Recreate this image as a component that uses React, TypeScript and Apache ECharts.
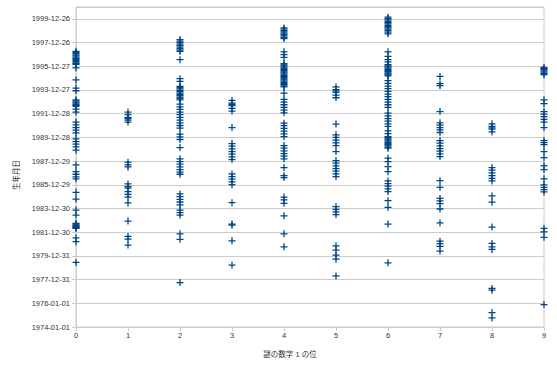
import React, { useEffect, useRef } from "react";
import * as echarts from "echarts";

// Birth dates (decimal years) for each value of the digit ("謎の数字 1 の位")
const digits = [0, 1, 2, 3, 4, 5, 6, 7, 8, 9];

const birth0 = [1997.25, 1997.15, 1997.05, 1996.95, 1996.86, 1996.76, 1996.66, 1996.56, 1996.46, 1996.37, 1996.27,
  1996.2, 1996.15, 1995.84, 1994.83, 1994.15, 1993.92,
  1993.16, 1993.06, 1992.97, 1992.87, 1992.77, 1992.68, 1992.6, 1992.38, 1992.12, 1991.28, 1991.05, 1990.82, 1990.6, 1990.37,
  1989.87, 1989.64, 1989.42, 1989.19, 1988.91, 1987.67, 1987.1, 1986.88, 1986.65, 1986.49,
  1985.36, 1984.79, 1983.86, 1983.44, 1982.74, 1982.67, 1982.6, 1982.54, 1982.47, 1982.4, 1982.36, 1982.32,
  1981.52, 1981.19, 1979.44];
const birth1 = [1992.12, 1991.9, 1991.67, 1991.56, 1991.45, 1991.28, 1987.9, 1987.67, 1987.5,
  1986.06, 1985.83, 1985.7, 1985.41, 1985.19, 1984.96, 1984.46, 1982.93, 1981.64, 1981.41, 1980.91];
const birth2 = [1998.24, 1998.1, 1997.98, 1997.85, 1997.73, 1997.6, 1997.47, 1997.35, 1997.25, 1996.54, 1994.94, 1994.71,
  1994.29, 1994.18, 1994.07, 1993.95, 1993.84, 1993.72, 1993.61, 1993.5, 1993.39, 1993.27, 1993.16,
  1992.8, 1992.57, 1992.34, 1992.12, 1991.9,
  1991.67, 1991.45, 1991.22, 1990.99, 1990.77, 1990.26, 1990.04, 1989.81, 1989.13,
  1988.18, 1987.95, 1987.73, 1987.5, 1987.27, 1987.05, 1986.88, 1985.22, 1984.99, 1984.77, 1984.54, 1984.29,
  1983.86, 1983.64, 1983.44, 1981.86, 1981.39, 1977.75];
const birth3 = [1993.1, 1992.88, 1992.77, 1992.66, 1992.43, 1992.21, 1990.82,
  1989.47, 1989.25, 1989.02, 1988.79,
  1988.57, 1988.34, 1988.12, 1986.91, 1986.68, 1986.46, 1986.23, 1986.0, 1984.48, 1982.68, 1982.6,
  1981.27, 1979.22];
const birth4 = [1999.22, 1999.11, 1999.0, 1998.88, 1998.77, 1998.66, 1998.55, 1998.43, 1998.32, 1997.2, 1996.97, 1996.74,
  1996.21, 1996.11, 1996.01, 1995.91, 1995.81, 1995.71, 1995.61, 1995.51, 1995.42, 1995.32, 1995.22, 1995.12,
  1995.02, 1994.92, 1994.83, 1994.73, 1994.63, 1994.53, 1994.43, 1994.33, 1994.24,
  1993.73, 1993.19, 1992.97, 1992.74, 1992.51, 1992.29, 1992.06, 1991.19, 1990.97, 1990.74, 1990.52,
  1990.29, 1990.06, 1989.3, 1989.08, 1988.85, 1988.62, 1988.4, 1988.18, 1987.44, 1986.76, 1986.6,
  1984.96, 1984.71, 1984.43, 1983.38, 1981.86, 1980.76];
const birth5 = [1994.24, 1994.01, 1993.9, 1993.78, 1993.56, 1993.33, 1991.11,
  1990.2, 1989.98, 1989.76, 1989.53,
  1989.3, 1988.79, 1988.03, 1987.81, 1987.58, 1987.36, 1987.14, 1986.91, 1986.68,
  1984.14, 1983.92, 1983.7, 1983.47, 1980.85, 1980.48, 1980.06, 1979.72, 1978.31];
const birth6 = [2000.12, 2000.01, 1999.9, 1999.78, 1999.67, 1999.55, 1999.44, 1999.33, 1999.22, 1999.11, 1999.0,
  1998.86, 1998.72, 1997.2, 1996.82, 1996.54, 1996.35,
  1996.12, 1996.02, 1995.93, 1995.82, 1995.72, 1995.62, 1995.53, 1995.43, 1995.34, 1995.25, 1995.17,
  1994.77, 1994.54, 1994.32, 1994.09, 1993.86,
  1993.64, 1993.42, 1993.19, 1992.97, 1992.74, 1992.51, 1992.04, 1991.81, 1991.58, 1991.36, 1991.13,
  1990.91, 1990.54, 1990.31, 1990.06, 1989.97, 1989.87, 1989.77, 1989.67, 1989.57, 1989.47, 1989.37,
  1989.27, 1989.17, 1989.08,
  1988.23, 1987.95, 1987.52, 1987.1, 1986.32, 1986.09, 1985.87, 1985.64, 1985.41, 1984.65, 1984.09,
  1982.68, 1979.41];
const birth7 = [1995.13, 1994.52, 1994.35, 1992.17, 1991.22, 1991.02, 1990.82, 1990.63, 1990.4,
  1989.72, 1989.5, 1989.27, 1989.05, 1988.83, 1988.6, 1988.37, 1986.34, 1985.78,
  1984.85, 1984.63, 1984.4, 1983.95, 1982.77, 1981.24, 1981.02, 1980.8, 1980.4];
const birth8 = [1991.13, 1990.91, 1990.8, 1990.69, 1990.46, 1987.44, 1987.22, 1986.99,
  1986.76, 1986.54, 1986.32,
  1985.05, 1984.52, 1982.43, 1981.05, 1980.76, 1980.54, 1977.25, 1977.1, 1975.22, 1974.76];
const birth9 = [1995.89, 1995.8, 1995.7, 1995.6, 1995.5, 1995.39, 1995.28, 1993.16, 1992.83, 1992.17, 1991.95,
  1991.73, 1991.5,
  1991.28, 1990.82, 1989.72, 1989.55, 1989.38, 1988.79, 1988.29, 1987.61, 1987.27, 1986.49,
  1985.98, 1985.78, 1985.58, 1985.39, 1982.32, 1982.03, 1981.56, 1975.89];

const birthByDigit = [birth0, birth1, birth2, birth3, birth4, birth5, birth6, birth7, birth8, birth9];

const X_NAME = "謎の数字 1 の位";
const Y_NAME = "生年月日";

const BASE_MS = Date.UTC(1974, 0, 1);
const DAY_MS = 86400000;
const STEP_DAYS = 730;

function yearToDays(y: number): number {
  return (y - 1974) * 365.2425;
}

function fmtDays(v: number): string {
  const d = new Date(BASE_MS + Math.round(v) * DAY_MS);
  const mm = String(d.getUTCMonth() + 1).padStart(2, "0");
  const dd = String(d.getUTCDate()).padStart(2, "0");
  return `${d.getUTCFullYear()}-${mm}-${dd}`;
}

export default function App() {
  const ref = useRef<HTMLDivElement>(null);

  useEffect(() => {
    if (!ref.current) return;
    const chart = echarts.init(ref.current, undefined, { renderer: "svg" });
    const data: number[][] = [];
    digits.forEach((d, i) => {
      birthByDigit[i].forEach((y) => data.push([d, yearToDays(y)]));
    });
    const font = "'Liberation Sans', 'Noto Sans CJK JP', sans-serif";
    const grey = "#cccccc";
    chart.setOption({
      animation: false,
      backgroundColor: "#ffffff",
      grid: {
        left: 76,
        right: 13,
        top: 7,
        bottom: 43,
        show: true,
        borderColor: grey,
        borderWidth: 1,
      },
      xAxis: {
        type: "value",
        min: 0,
        max: 9,
        interval: 1,
        splitLine: { show: false },
        axisLine: { show: true, lineStyle: { color: grey } },
        axisTick: { show: true, length: 4, lineStyle: { color: grey } },
        axisLabel: { fontSize: 7.5, color: "#333", margin: 5, fontFamily: font },
      },
      yAxis: {
        type: "value",
        min: 0,
        max: STEP_DAYS * 13.5,
        interval: STEP_DAYS,
        splitLine: { show: true, lineStyle: { color: grey, width: 1 } },
        axisLine: { show: true, lineStyle: { color: grey } },
        axisTick: { show: true, length: 4, lineStyle: { color: grey } },
        axisLabel: {
          fontSize: 7.5,
          color: "#333",
          margin: 6,
          fontFamily: font,
          showMaxLabel: false,
          formatter: (v: number) => {
            const k = v / STEP_DAYS;
            return Math.abs(k - Math.round(k)) < 1e-6 ? fmtDays(v) : "";
          },
        },
      },
      graphic: [
        {
          type: "text",
          x: 290,
          y: 354,
          style: {
            text: X_NAME,
            fontSize: 7.5,
            fill: "#333",
            fontFamily: font,
            align: "center",
            verticalAlign: "middle",
          },
        },
        {
          type: "text",
          x: 16,
          y: 175,
          rotation: Math.PI / 2,
          style: {
            text: Y_NAME,
            fontSize: 7.5,
            fill: "#333",
            fontFamily: font,
            align: "center",
            verticalAlign: "middle",
          },
        },
      ],
      series: [
        {
          type: "scatter",
          data,
          symbol: "path://M4.1,0H5.9V4.1H10V5.9H5.9V10H4.1V5.9H0V4.1H4.1Z",
          symbolSize: 7,
          itemStyle: { color: "#004586", opacity: 1 },
          clip: false,
        },
      ],
    });
    return () => chart.dispose();
  }, []);

  return <div ref={ref} style={{ width: 557, height: 370, position: "absolute", left: 0, top: 0 }} />;
}
